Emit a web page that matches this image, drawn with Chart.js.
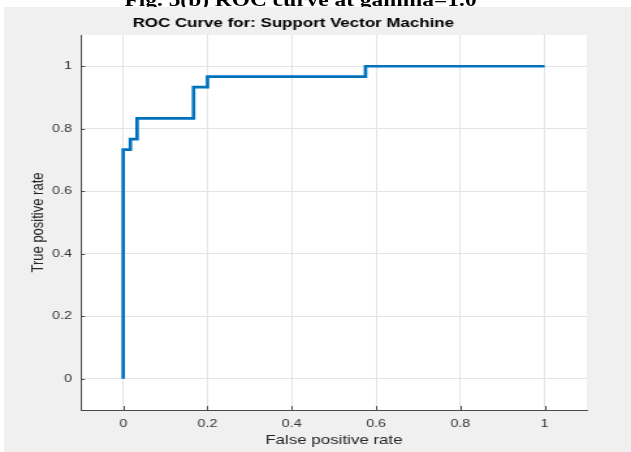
<!DOCTYPE html>
<html lang="en">
<head>
  <meta charset="UTF-8" />
  <title>ROC Curve for: Support Vector Machine</title>
  <script src="https://cdn.jsdelivr.net/npm/chart.js"></script>
  <style>
    html, body { margin: 0; padding: 0; background: #fff; overflow: hidden; }
    /* the source figure is a screenshot stretched sideways, so the whole stage is stretched too */
    #stage { position: relative; width: 485px; height: 452px; overflow: hidden;
             transform: scaleX(1.30103); transform-origin: 0 0; }
    #caption { position: absolute; left: 0; top: -9px; width: 462px; text-align: center;
               font: bold 18px/18px "Liberation Serif", "Times New Roman", serif; color: #000; white-space: nowrap; }
    #fig { position: absolute; left: 3px; top: 7px; right: 0; bottom: 0; background: #f0f0f0; }
    #roc { position: absolute; left: 0; top: 0; }
  </style>
</head>
<body>
  <div id="stage">
    <div id="caption">Fig. 5(b) ROC curve at gamma=1.0</div>
    <div id="fig"></div>
    <canvas id="roc" width="485" height="452"></canvas>
  </div>

  <script>
    // ROC points (false positive rate, true positive rate)
    const fpr = [0, 0, 0.017, 0.017, 0.033, 0.033, 0.167, 0.167, 0.2, 0.2, 0.575, 0.575, 1];
    const tpr = [0, 0.733, 0.733, 0.767, 0.767, 0.833, 0.833, 0.933, 0.933, 0.967, 0.967, 1, 1];

    const xTicks = [0, 0.2, 0.4, 0.6, 0.8, 1];
    const yTicks = [0, 0.2, 0.4, 0.6, 0.8, 1];

    const axisColor = '#4a4a4a';
    const gridColor = '#e4e4e4';
    const sans = '"Liberation Sans", Arial, Helvetica, sans-serif';

    // white plot box + small inward tick marks like MATLAB
    const axesBox = {
      id: 'axesBox',
      beforeDraw(chart) {
        const { ctx, chartArea: a } = chart;
        ctx.save();
        ctx.fillStyle = '#fff';
        ctx.fillRect(a.left, a.top, a.right - a.left, a.bottom - a.top);
        ctx.restore();
      },
      afterDraw(chart) {
        const { ctx, chartArea: a, scales } = chart;
        ctx.save();
        ctx.strokeStyle = axisColor;
        ctx.lineWidth = 1;
        ctx.beginPath();
        scales.x.ticks.forEach(t => {
          const px = Math.round(scales.x.getPixelForValue(t.value)) + 0.5;
          ctx.moveTo(px, a.bottom);
          ctx.lineTo(px, a.bottom - 4);
        });
        scales.y.ticks.forEach(t => {
          const py = Math.round(scales.y.getPixelForValue(t.value)) + 0.5;
          ctx.moveTo(a.left, py);
          ctx.lineTo(a.left + 3, py);
        });
        ctx.stroke();
        ctx.restore();
      }
    };

    new Chart(document.getElementById('roc'), {
      type: 'line',
      data: {
        datasets: [{
          label: 'ROC',
          data: fpr.map((x, i) => ({ x: x, y: tpr[i] })),
          borderColor: '#0072BD',
          borderWidth: 2.7,
          pointRadius: 0,
          tension: 0,
          fill: false
        }]
      },
      options: {
        responsive: false,
        animation: false,
        layout: { padding: { left: 0, right: 34, top: 0, bottom: 0 } },
        plugins: {
          legend: { display: false },
          tooltip: { enabled: false },
          title: {
            display: true,
            text: 'ROC Curve for: Support Vector Machine',
            color: '#000',
            font: { family: sans, size: 13, weight: 'bold' },
            padding: { top: 16, bottom: 3.4 }
          }
        },
        scales: {
          x: {
            type: 'linear',
            min: -0.1,
            max: 1.1,
            afterBuildTicks: s => { s.ticks = xTicks.map(v => ({ value: v })); },
            afterFit: s => { s.height = 42; },
            grid: { color: gridColor, drawTicks: false },
            border: { color: axisColor, width: 1 },
            ticks: { color: '#333', padding: 7, font: { family: sans, size: 11 }, callback: v => String(v) },
            title: { display: true, text: 'False positive rate', color: '#262626',
                     font: { family: sans, size: 13 }, padding: { top: 0, bottom: 4 } }
          },
          y: {
            type: 'linear',
            min: -0.1,
            max: 1.1,
            afterBuildTicks: s => { s.ticks = yTicks.map(v => ({ value: v })); },
            afterFit: s => { s.width = 62.3; },
            grid: { color: gridColor, drawTicks: false },
            border: { color: axisColor, width: 1 },
            ticks: { color: '#333', padding: 7, font: { family: sans, size: 11 }, callback: v => String(v) },
            title: { display: true, text: 'True positive rate', color: '#262626',
                     font: { family: sans, size: 13 }, padding: { top: 21.4, bottom: 0 } }
          }
        }
      },
      plugins: [axesBox]
    });
  </script>
</body>
</html>
